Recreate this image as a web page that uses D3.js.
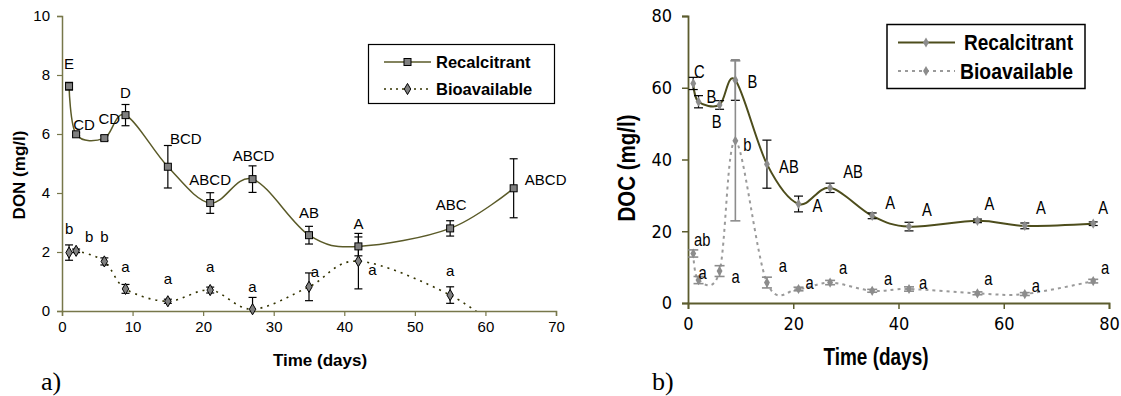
<!DOCTYPE html>
<html>
<head>
<meta charset="utf-8">
<script src="https://cdn.jsdelivr.net/npm/d3@7"></script>
<style>
  html, body { margin: 0; padding: 0; background: #ffffff; }
  svg { display: block; }
</style>
</head>
<body>
<svg id="chart" width="1121" height="396"></svg>
<script>
// ---------------- DATA ----------------
// Panel a) DON
const donDays = [1, 2, 6, 9, 15, 21, 27, 35, 42, 55, 64];
const donRecMean = [7.62, 5.99, 5.86, 6.64, 4.89, 3.66, 4.47, 2.57, 2.19, 2.80, 4.16];
const donRecErr  = [0.13, 0.05, 0.08, 0.36, 0.72, 0.35, 0.45, 0.30, 0.32, 0.26, 1.00];
const donRecLetters = ["E", "CD", "CD", "D", "BCD", "ABCD", "ABCD", "AB", "A", "ABC", "ABCD"];
const donBioMean = [1.98, 2.04, 1.68, 0.75, 0.33, 0.71, 0.06, 0.82, 1.69, 0.54, -1.00];
const donBioErr  = [0.26, 0.06, 0.12, 0.15, 0.07, 0.10, 0.40, 0.47, 0.94, 0.28, 0.30];
const donBioLetters = ["b", "b", "b", "a", "a", "a", "a", "a", "a", "a", ""];
const donXTicks = [0, 10, 20, 30, 40, 50, 60, 70];
const donYTicks = [0, 2, 4, 6, 8, 10];

// Panel b) DOC
const docDays = [1, 2, 6, 9, 15, 21, 27, 35, 42, 55, 64, 77];
const docRecMean = [61.2, 56.1, 55.2, 62.1, 38.7, 27.6, 32.1, 24.3, 21.3, 22.9, 21.5, 22.1];
const docRecErr  = [1.7, 1.7, 1.2, 5.6, 6.7, 2.2, 1.3, 0.8, 1.2, 0.5, 0.8, 0.5];
const docRecLetters = ["C", "B", "B", "B", "AB", "A", "AB", "A", "A", "A", "A", "A"];
const docBioMean = [13.8, 6.4, 8.9, 45.2, 5.7, 3.9, 5.7, 3.4, 3.9, 2.7, 2.5, 6.1];
const docBioErr  = [1.0, 1.0, 1.5, 22.3, 1.5, 0.5, 0.6, 0.4, 0.6, 0.4, 0.4, 0.5];
const docBioLetters = ["ab", "a", "a", "b", "a", "a", "a", "a", "a", "a", "a", "a"];
const docXTicks = [0, 20, 40, 60, 80];
const docYTicks = [0, 20, 40, 60, 80];

const seriesNames = ["Recalcitrant", "Bioavailable"];
const panelTags = ["a)", "b)"];

// Letter label placement (pixel offsets from the point)
const donRecLabelOffsets = [[0,-23],[8,-10],[5,-20],[0,-23],[18,-28],[0,-23],[1,-24],[0,-23],[0,-23],[1,-24],[32,-9]];
const donBioLabelOffsets = [[0,-24],[13,-14],[0,-25],[0,-22],[0,-23],[0,-23],[0,-23],[6,-15],[14,8],[0,-24],[0,0]];
const docRecLabelOffsets = [[6,-12],[13,-5],[-3,17],[17,1],[22,2],[19,2],[23,-16],[18,-13],[18,-17],[12,-17],[16,-18],[10,-16]];
const docBioLabelOffsets = [[9,-14],[4,-8],[16,5],[12,4],[16,-17],[11,-7],[13,-15],[16,-12],[14,-7],[11,-15],[11,-9],[12,-14]];

// ---------------- DRAW ----------------
const svg = d3.select("#chart");
const curve = d3.curveCardinal.tension(0);
const fontReg = "'Liberation Sans', Arial, sans-serif";

function rows(days, mean, err, letters, offs) {
  return days.map((d, i) => ({ x: d, y: mean[i], e: err[i], lab: letters[i], off: offs[i] }));
}

// ===== Panel a =====
(function () {
  const x = d3.scaleLinear().domain([0, 70]).range([62, 556]);
  const y = d3.scaleLinear().domain([0, 10]).range([311, 16]);
  const axisColor = "#77774a";
  const g = svg.append("g");

  g.append("clipPath").attr("id", "clipA").append("rect")
    .attr("x", 62).attr("y", 10).attr("width", 500).attr("height", 301);

  const ya = g.append("g").attr("transform", "translate(62,0)")
    .call(d3.axisLeft(y).tickValues(donYTicks).tickSize(5).tickPadding(7).tickFormat(d3.format("d")));
  const xa = g.append("g").attr("transform", "translate(0,311)")
    .call(d3.axisBottom(x).tickValues(donXTicks).tickSize(5).tickPadding(5).tickFormat(d3.format("d")));
  [ya, xa].forEach(a => {
    a.select(".domain").attr("stroke", axisColor).attr("stroke-width", 1.5);
    a.selectAll(".tick line").attr("stroke", axisColor).attr("stroke-width", 1.2);
    a.selectAll(".tick text").attr("font-family", fontReg).attr("font-size", 15).attr("fill", "#000");
  });

  const rec = rows(donDays, donRecMean, donRecErr, donRecLetters, donRecLabelOffsets);
  const bio = rows(donDays, donBioMean, donBioErr, donBioLetters, donBioLabelOffsets);

  const line = d3.line().x(d => x(d.x)).y(d => y(d.y)).curve(curve);
  const clipped = g.append("g").attr("clip-path", "url(#clipA)");

  clipped.append("path").datum(rec).attr("d", line)
    .attr("fill", "none").attr("stroke", "#5a5a28").attr("stroke-width", 1.5);
  clipped.append("path").datum(bio).attr("d", line)
    .attr("fill", "none").attr("stroke", "#333300").attr("stroke-width", 1.6)
    .attr("stroke-dasharray", "2,5");

  function errBars(data, color, cap) {
    const eb = clipped.append("g").attr("stroke", color).attr("stroke-width", 1.2);
    data.forEach(d => {
      eb.append("line").attr("x1", x(d.x)).attr("x2", x(d.x)).attr("y1", y(d.y - d.e)).attr("y2", y(d.y + d.e));
      eb.append("line").attr("x1", x(d.x) - cap / 2).attr("x2", x(d.x) + cap / 2).attr("y1", y(d.y + d.e)).attr("y2", y(d.y + d.e));
      eb.append("line").attr("x1", x(d.x) - cap / 2).attr("x2", x(d.x) + cap / 2).attr("y1", y(d.y - d.e)).attr("y2", y(d.y - d.e));
    });
  }
  errBars(rec, "#000", 8);
  errBars(bio, "#000", 8);

  g.append("g").selectAll("rect").data(rec.filter(d => d.y >= 0)).join("rect")
    .attr("x", d => x(d.x) - 3.5).attr("y", d => y(d.y) - 3.5)
    .attr("width", 7).attr("height", 7)
    .attr("fill", "#808080").attr("stroke", "#000").attr("stroke-width", 1);
  g.append("g").selectAll("path").data(bio.filter(d => d.y >= 0)).join("path")
    .attr("d", d3.symbol(d3.symbolDiamond, 36))
    .attr("transform", d => `translate(${x(d.x)},${y(d.y)})`)
    .attr("fill", "#808080").attr("stroke", "#000").attr("stroke-width", 1);

  const lab = g.append("g").attr("font-family", fontReg).attr("font-size", 15).attr("fill", "#000")
    .attr("text-anchor", "middle");
  rec.concat(bio).filter(d => d.lab).forEach(d => {
    lab.append("text").attr("x", x(d.x) + d.off[0]).attr("y", y(d.y) + d.off[1]).attr("dy", "0.36em").text(d.lab);
  });

  g.append("text").attr("x", 320).attr("y", 360).attr("dy", "0.36em").attr("text-anchor", "middle")
    .attr("font-family", fontReg).attr("font-weight", "bold").attr("font-size", 17).text("Time (days)");
  g.append("text").attr("transform", "translate(19,175) rotate(-90)").attr("dy", "0.36em")
    .attr("text-anchor", "middle").attr("font-family", fontReg).attr("font-weight", "bold")
    .attr("font-size", 17).text("DON (mg/l)");

  const lg = g.append("g");
  lg.append("rect").attr("x", 368.5).attr("y", 44.5).attr("width", 186).attr("height", 59)
    .attr("fill", "#fff").attr("stroke", "#000").attr("stroke-width", 1.2);
  lg.append("line").attr("x1", 384).attr("x2", 431).attr("y1", 62).attr("y2", 62)
    .attr("stroke", "#5a5a28").attr("stroke-width", 1.5);
  lg.append("rect").attr("x", 407.5 - 3.5).attr("y", 62 - 3.5).attr("width", 7).attr("height", 7)
    .attr("fill", "#808080").attr("stroke", "#000");
  lg.append("line").attr("x1", 384).attr("x2", 431).attr("y1", 89).attr("y2", 89)
    .attr("stroke", "#333300").attr("stroke-width", 1.6).attr("stroke-dasharray", "2,4");
  lg.append("path").attr("d", d3.symbol(d3.symbolDiamond, 36)).attr("transform", "translate(407.5,89)")
    .attr("fill", "#808080").attr("stroke", "#000");
  seriesNames.forEach((n, i) => {
    lg.append("text").attr("x", 436).attr("y", 62 + i * 27).attr("dy", "0.36em")
      .attr("font-family", fontReg).attr("font-weight", "bold").attr("font-size", 16.5).text(n);
  });

  g.append("text").attr("x", 41).attr("y", 390).attr("font-family", "'Liberation Serif', 'Times New Roman', serif")
    .attr("font-size", 26).text(panelTags[0]);
})();

// ===== Panel b =====
(function () {
  const fontTick = "'DejaVu Sans Condensed', 'DejaVu Sans', sans-serif";
  const x = d3.scaleLinear().domain([0, 80]).range([688, 1109]);
  const y = d3.scaleLinear().domain([0, 80]).range([303, 16]);
  const axisColor = "#5c5c2e";
  const g = svg.append("g");

  const ya = g.append("g").attr("transform", "translate(688,0)")
    .call(d3.axisLeft(y).tickValues(docYTicks).tickSize(6).tickPadding(10).tickFormat(d3.format("d")));
  const xa = g.append("g").attr("transform", "translate(0,303)")
    .call(d3.axisBottom(x).tickValues(docXTicks).tickSize(6).tickPadding(8).tickFormat(d3.format("d")));
  [ya, xa].forEach(a => {
    a.select(".domain").attr("stroke", axisColor).attr("stroke-width", 1.8);
    a.selectAll(".tick line").attr("stroke", axisColor).attr("stroke-width", 1.5);
    a.selectAll(".tick text").attr("font-family", fontTick).attr("font-size", 18).attr("fill", "#000");
  });

  const rec = rows(docDays, docRecMean, docRecErr, docRecLetters, docRecLabelOffsets);
  const bio = rows(docDays, docBioMean, docBioErr, docBioLetters, docBioLabelOffsets);
  const line = d3.line().x(d => x(d.x)).y(d => y(d.y)).curve(curve);

  g.append("path").datum(bio).attr("d", line)
    .attr("fill", "none").attr("stroke", "#9a9a9a").attr("stroke-width", 2)
    .attr("stroke-dasharray", "3,4");
  g.append("path").datum(rec).attr("d", line)
    .attr("fill", "none").attr("stroke", "#4d4d1c").attr("stroke-width", 2);

  function errBars(data, color, cap, w) {
    const eb = g.append("g").attr("stroke", color).attr("stroke-width", w);
    data.forEach(d => {
      eb.append("line").attr("x1", x(d.x)).attr("x2", x(d.x)).attr("y1", y(d.y - d.e)).attr("y2", y(d.y + d.e));
      eb.append("line").attr("x1", x(d.x) - cap / 2).attr("x2", x(d.x) + cap / 2).attr("y1", y(d.y + d.e)).attr("y2", y(d.y + d.e));
      eb.append("line").attr("x1", x(d.x) - cap / 2).attr("x2", x(d.x) + cap / 2).attr("y1", y(d.y - d.e)).attr("y2", y(d.y - d.e));
    });
  }
  errBars(rec, "#000", 9, 1.2);
  errBars(bio, "#8c8c8c", 10, 1.6);

  g.append("g").selectAll("path").data(rec.concat(bio)).join("path")
    .attr("d", d3.symbol(d3.symbolDiamond, 30))
    .attr("transform", d => `translate(${x(d.x)},${y(d.y)})`)
    .attr("fill", "#8c8c8c");

  // narrow-looking letters: regular sans compressed horizontally
  const lab = g.append("g").attr("font-family", fontReg).attr("font-size", 18).attr("fill", "#000")
    .attr("text-anchor", "middle");
  rec.concat(bio).filter(d => d.lab).forEach(d => {
    lab.append("text")
      .attr("transform", `translate(${x(d.x) + d.off[0]},${y(d.y) + d.off[1]}) scale(0.82,1)`)
      .attr("dy", "0.36em").text(d.lab);
  });

  g.append("text").attr("x", 876).attr("y", 357).attr("dy", "0.36em").attr("text-anchor", "middle")
    .attr("font-family", fontReg).attr("font-weight", "bold").attr("font-size", 23)
    .attr("textLength", 105).attr("lengthAdjust", "spacingAndGlyphs").text("Time (days)");
  g.append("text").attr("transform", "translate(627,168) rotate(-90)").attr("dy", "0.36em")
    .attr("text-anchor", "middle").attr("font-family", fontReg).attr("font-weight", "bold")
    .attr("font-size", 23).attr("textLength", 107).attr("lengthAdjust", "spacingAndGlyphs").text("DOC (mg/l)");

  const lg = g.append("g");
  lg.append("rect").attr("x", 887).attr("y", 24.5).attr("width", 198).attr("height", 64)
    .attr("fill", "#fff").attr("stroke", "#000").attr("stroke-width", 1.5);
  lg.append("line").attr("x1", 898).attr("x2", 955).attr("y1", 42.5).attr("y2", 42.5)
    .attr("stroke", "#4d4d1c").attr("stroke-width", 2);
  lg.append("path").attr("d", d3.symbol(d3.symbolDiamond, 30)).attr("transform", "translate(926,42.5)")
    .attr("fill", "#8c8c8c");
  lg.append("line").attr("x1", 898).attr("x2", 955).attr("y1", 71).attr("y2", 71)
    .attr("stroke", "#9a9a9a").attr("stroke-width", 2).attr("stroke-dasharray", "3,4");
  lg.append("path").attr("d", d3.symbol(d3.symbolDiamond, 30)).attr("transform", "translate(926,71)")
    .attr("fill", "#8c8c8c");
  const legLen = [109, 113];
  const legX = [964, 960];
  seriesNames.forEach((n, i) => {
    lg.append("text").attr("x", legX[i]).attr("y", 42.5 + i * 28.5).attr("dy", "0.36em")
      .attr("font-family", fontReg).attr("font-weight", "bold").attr("font-size", 22)
      .attr("textLength", legLen[i]).attr("lengthAdjust", "spacingAndGlyphs").text(n);
  });

  g.append("text").attr("x", 652).attr("y", 390).attr("font-family", "'Liberation Serif', 'Times New Roman', serif")
    .attr("font-size", 26).text(panelTags[1]);
})();
</script>
</body>
</html>
